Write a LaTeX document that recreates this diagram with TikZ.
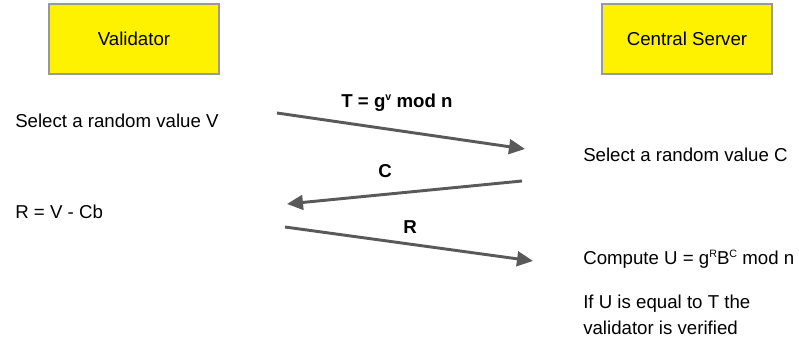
\documentclass[tikz,border=0pt]{standalone}
\usepackage{fontspec}
\setmainfont{Liberation Sans}
\usetikzlibrary{arrows.meta}
\newcommand{\supx}[1]{\raisebox{5.5pt}{\fontsize{8}{8}\selectfont #1}}
\begin{document}
\begin{tikzpicture}[x=0.75pt,y=-0.75pt,
  party/.style={draw=gray!80,line width=0.8pt,fill=yellow,minimum width=127.5pt,minimum height=52.5pt,inner sep=0pt,font=\fontsize{14}{16}\selectfont},
  txt/.style={anchor=west,inner sep=0pt,font=\fontsize{14}{16}\selectfont,align=left},
  lbl/.style={inner sep=0pt,font=\fontsize{14}{16}\selectfont\bfseries},
  msg/.style={draw=black!65,line width=2.2pt,-{Triangle[length=12pt,width=11pt]},shorten >=0pt}
]
\useasboundingbox (0,0) rectangle (799,341);
\node[party] (val) at (134,39) {Validator};
\node[party] (srv) at (687,39) {Central Server};
\node[txt] (selV) at (15,121) {Select a random value V};
\node[txt] (rcalc) at (15,212) {R = V - Cb};
\node[txt] (selC) at (583,155) {Select a random value C};
\node[txt] (comp) at (583,259) {Compute U = g\supx{R}B\supx{C} mod n};
\node[txt,anchor=north west] (check) at (583,295) {If U is equal to T the\\[3pt]validator is verified};
\coordinate (a1s) at (277,113);
\coordinate (a1e) at (525,149);
\coordinate (a2s) at (522,181);
\coordinate (a2e) at (287,204);
\coordinate (a3s) at (285,227);
\coordinate (a3e) at (533,261);
\draw[msg] (a1s) -- (a1e);
\draw[msg] (a2s) -- (a2e);
\draw[msg] (a3s) -- (a3e);
\node[lbl] (lT) at (397,103) {T = g\supx{v} mod n};
\node[lbl] (lC) at (385,171) {C};
\node[lbl] (lR) at (410,227) {R};
\end{tikzpicture}
\end{document}
